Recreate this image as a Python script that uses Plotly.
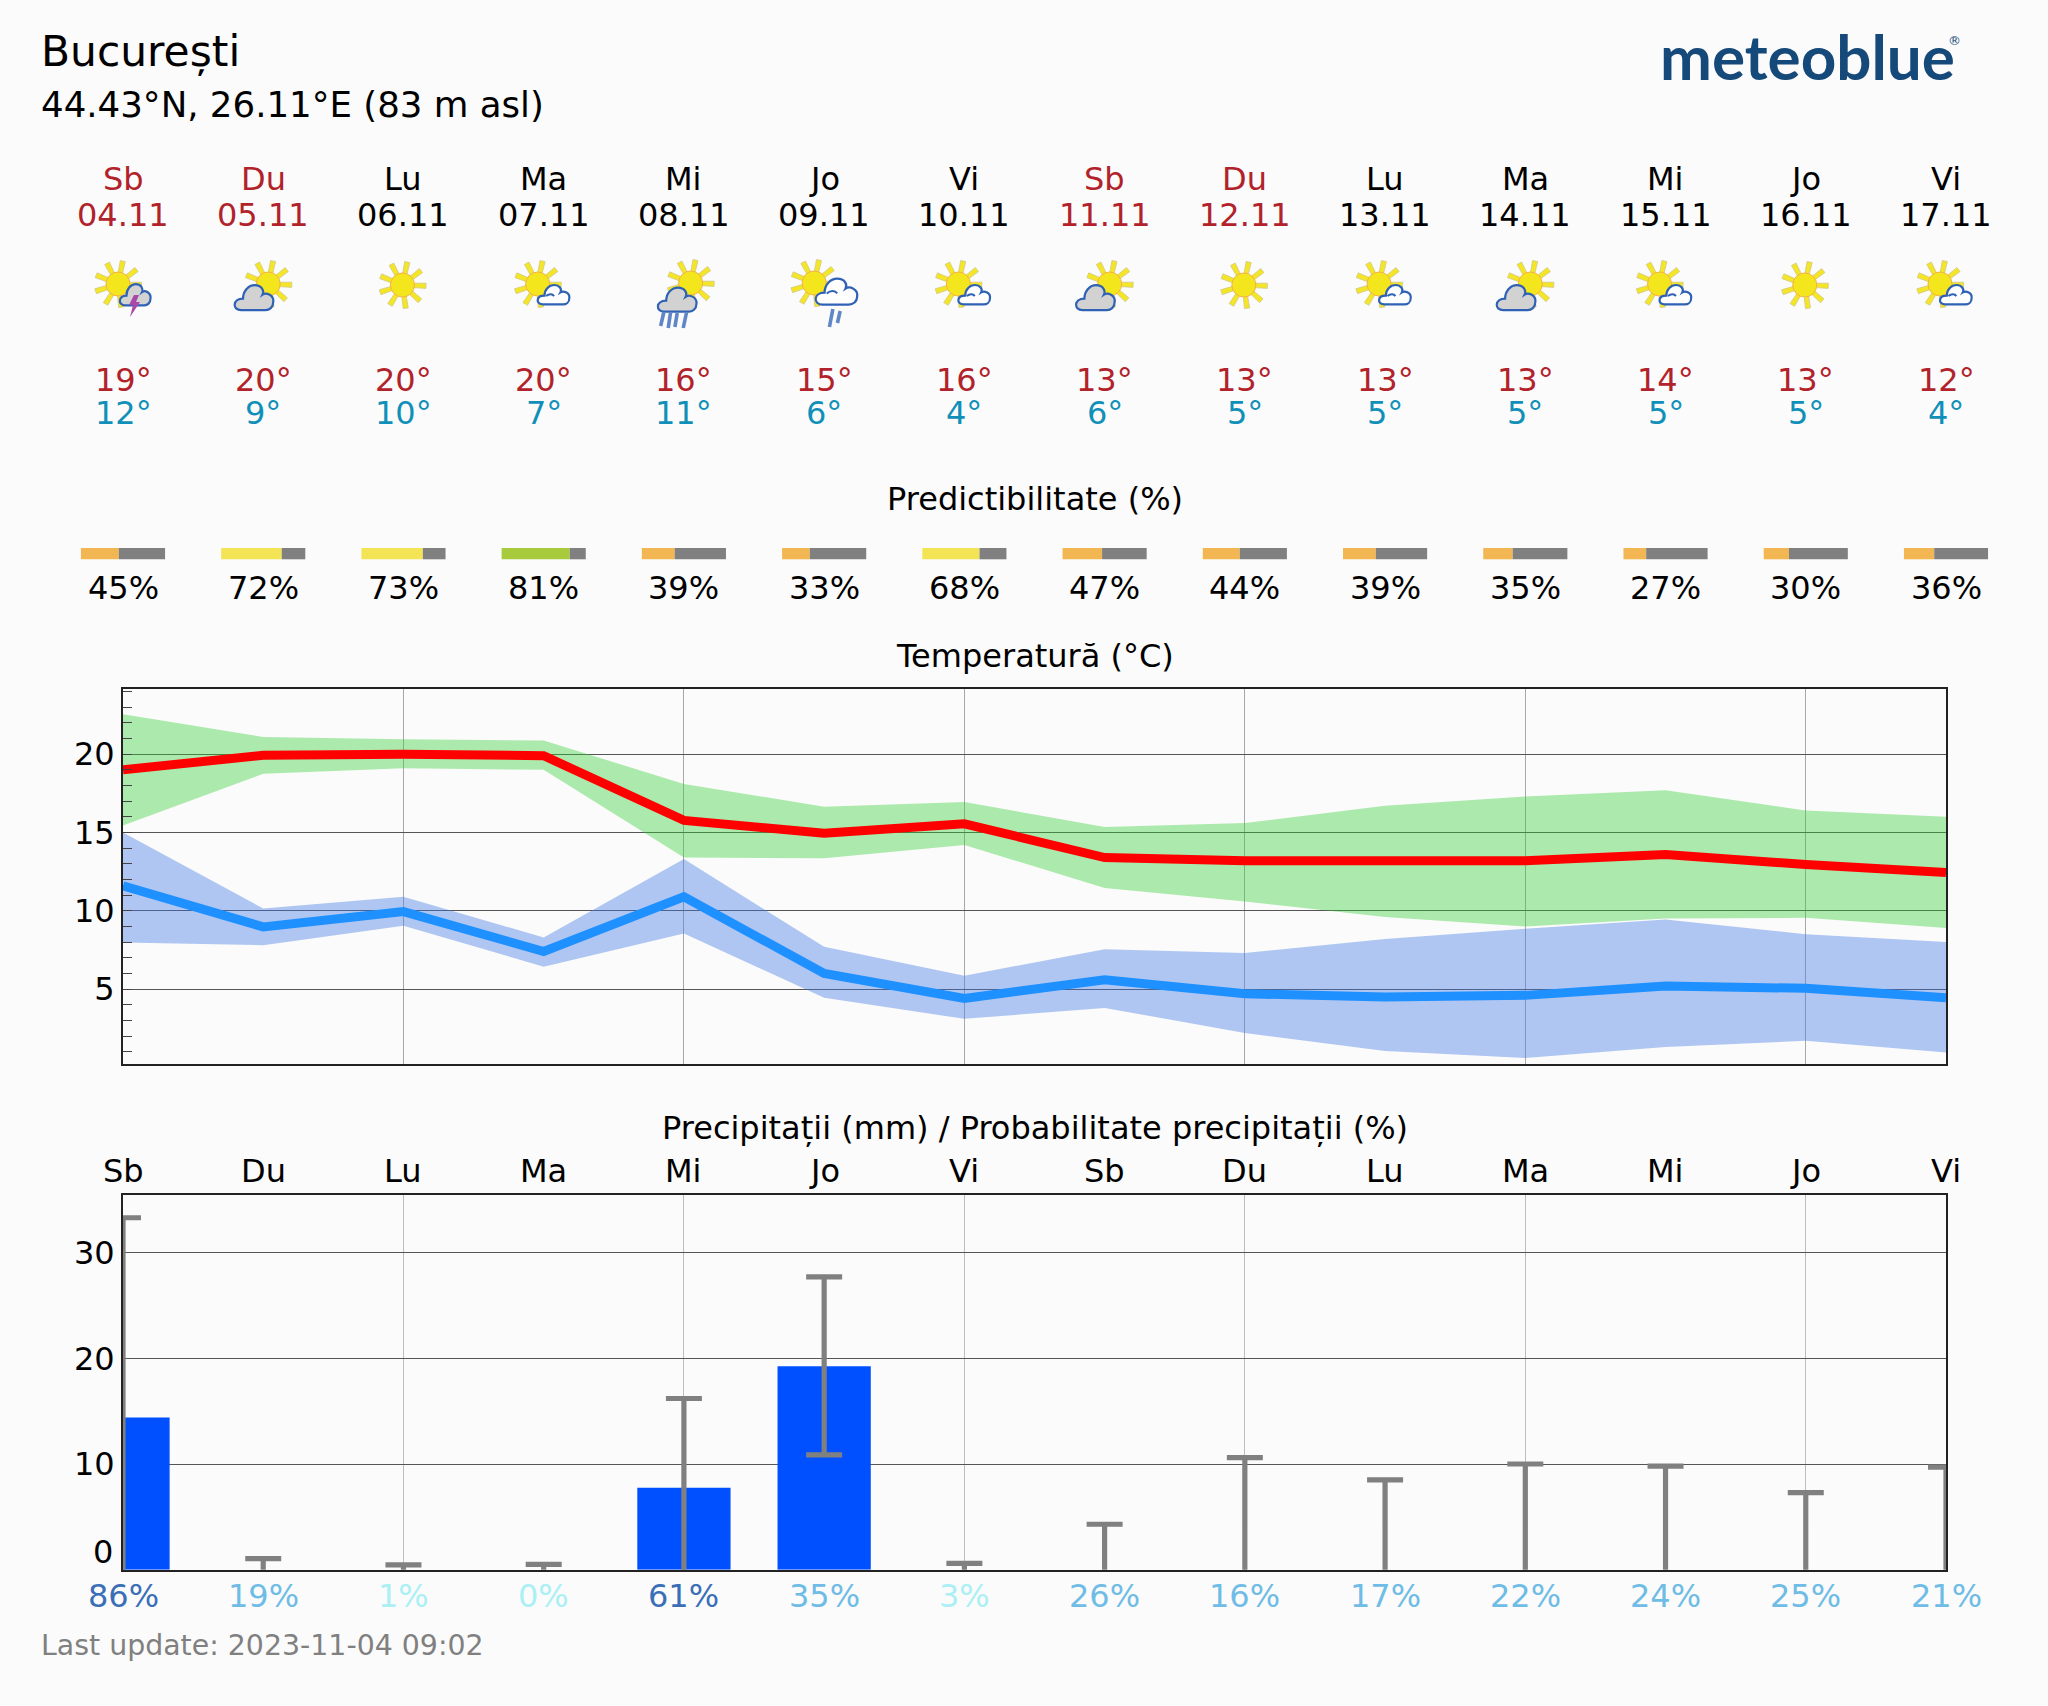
import base64
import math
import plotly.graph_objects as go

W, H = 2048, 1706
BG = "#fbfbfb"
FONT = "DejaVu Sans"

days = ["Sb", "Du", "Lu", "Ma", "Mi", "Jo", "Vi", "Sb", "Du", "Lu", "Ma", "Mi", "Jo", "Vi"]
dates = ["04.11", "05.11", "06.11", "07.11", "08.11", "09.11", "10.11",
         "11.11", "12.11", "13.11", "14.11", "15.11", "16.11", "17.11"]
icons = ["A", "B", "C", "D", "E", "F", "D", "B", "C", "D", "B", "D", "C", "D"]
high_labels = [19, 20, 20, 20, 16, 15, 16, 13, 13, 13, 13, 14, 13, 12]
low_labels = [12, 9, 10, 7, 11, 6, 4, 6, 5, 5, 5, 5, 5, 4]
predictability = [45, 72, 73, 81, 39, 33, 68, 47, 44, 39, 35, 27, 30, 36]
rain_probability = [86, 19, 1, 0, 61, 35, 3, 26, 16, 17, 22, 24, 25, 21]

tmax = [19.0, 19.93, 20.0, 19.9, 15.77, 14.95, 15.55, 13.4, 13.2, 13.2, 13.2, 13.6, 12.95, 12.45]
tmax_hi = [22.55, 21.1, 20.95, 20.87, 18.1, 16.65, 16.95, 15.35, 15.6, 16.7, 17.3, 17.7, 16.4, 16.0]
tmax_lo = [15.45, 18.75, 19.1, 19.0, 13.4, 13.35, 14.2, 11.45, 10.6, 9.6, 9.0, 9.5, 9.55, 8.9]
tmin = [11.6, 8.97, 9.95, 7.4, 10.9, 6.0, 4.4, 5.6, 4.7, 4.5, 4.6, 5.2, 5.05, 4.45]
tmin_hi = [15.0, 10.15, 10.9, 8.3, 13.3, 7.7, 5.85, 7.55, 7.3, 8.2, 8.85, 9.45, 8.5, 8.0]
tmin_lo = [7.97, 7.8, 9.05, 6.43, 8.55, 4.45, 3.1, 3.8, 2.2, 1.05, 0.6, 1.3, 1.7, 0.95]

precip = [14.4, 0, 0, 0, 7.75, 19.25, 0, 0, 0, 0, 0, 0, 0, 0]
precip_hi = [33.3, 1.04, 0.45, 0.5, 16.2, 27.7, 0.6, 4.3, 10.6, 8.5, 10.0, 9.8, 7.3, 9.7]
# a low end of -1 lies below the axis, so its cap is clipped away
precip_lo = [-1, -1, -1, -1, -1, 10.87, -1, -1, -1, -1, -1, -1, -1, -1]

x = list(range(14))
LEFT, RIGHT = 123, 1946
STEP = (RIGHT - LEFT) / 13
T_TOP, T_BOT = 689, 1063.5
P_TOP, P_BOT = 1194.5, 1569.7
px = lambda v: v / W
py = lambda v: 1 - v / H
day_px = lambda d: px(LEFT + d * STEP)

RED, BLUE, BLACK = "#b2222a", "#1090b8", "#000000"
SZ = 32

fig = go.Figure()
band = dict(mode="lines", line=dict(width=0), xaxis="x", yaxis="y", hoverinfo="skip")
fig.add_trace(go.Scatter(x=x, y=tmax_lo, **band))
fig.add_trace(go.Scatter(x=x, y=tmax_hi, fill="tonexty", fillcolor="rgba(50,205,50,0.39)", **band))
fig.add_trace(go.Scatter(x=x, y=tmin_lo, **band))
fig.add_trace(go.Scatter(x=x, y=tmin_hi, fill="tonexty", fillcolor="rgba(62,120,230,0.40)", **band))
fig.add_trace(go.Scatter(x=x, y=tmax, mode="lines", line=dict(color="#ff0000", width=9), xaxis="x", yaxis="y"))
fig.add_trace(go.Scatter(x=x, y=tmin, mode="lines", line=dict(color="#1e90ff", width=9), xaxis="x", yaxis="y"))
fig.add_trace(go.Bar(x=x, y=precip, width=0.665, marker=dict(color="#0050ff", line=dict(width=0)),
                     xaxis="x2", yaxis="y2"))
fig.add_trace(go.Scatter(
    x=x, y=precip_lo, mode="markers", marker=dict(size=1, opacity=0), xaxis="x2", yaxis="y2",
    error_y=dict(type="data", symmetric=False, array=[h - l for h, l in zip(precip_hi, precip_lo)],
                 arrayminus=[0] * 14, color="#808080", thickness=5.2, width=18)))


def ann(text, x_, y_px, size, color=BLACK, xanchor="center", **font):
    fig.add_annotation(text=text, x=x_, y=py(y_px), xref="paper", yref="paper", xanchor=xanchor,
                       yanchor="middle", showarrow=False, align="center",
                       font=dict(family=font.pop("family", FONT), size=size, color=color, **font))


ann("București", px(39), 52, 42.4, xanchor="left")
ann("44.43°N, 26.11°E (83 m asl)", px(39), 104.5, 35.6, xanchor="left")
ann("meteoblue", px(1658), 56, 62, color="#15497a", xanchor="left", family="Lato", weight=700)
ann("®", px(1946), 40, 13, color="#15497a", xanchor="left")
ann("Predictibilitate (%)", day_px(6.5), 499, SZ)
ann("Temperatură (°C)", day_px(6.5), 656, SZ)
ann("Precipitații (mm) / Probabilitate precipitații (%)", day_px(6.5), 1128, SZ)
ann("Last update: 2023-11-04 09:02", px(39), 1645, 28.4, color="#808080", xanchor="left")


def pct_color(p):
    return "#3a6fb8" if p >= 50 else ("#6fbce6" if p >= 5 else "#aaf0f5")


def pred_color(p):
    return "#f2b752" if p < 50 else ("#f3e455" if p < 80 else "#a7cb3c")


half = 0.3
for i in x:
    c = RED if days[i] in ("Sb", "Du") else BLACK
    ann(days[i], day_px(i), 179, SZ, c)
    ann(dates[i], day_px(i), 214.5, SZ, c)
    ann(f"{high_labels[i]}°", day_px(i), 380, SZ, RED)
    ann(f"{low_labels[i]}°", day_px(i), 413, SZ, BLUE)
    ann(f"{predictability[i]}%", day_px(i), 588, SZ)
    ann(days[i], day_px(i), 1171, SZ)
    ann(f"{rain_probability[i]}%", day_px(i), 1596, SZ, pct_color(rain_probability[i]))
    split = i - half + 2 * half * predictability[i] / 100
    for x0, x1, col in ((i - half, split, pred_color(predictability[i])), (split, i + half, "#808080")):
        fig.add_shape(type="rect", xref="paper", yref="paper", x0=day_px(x0), x1=day_px(x1),
                      y0=py(559.3), y1=py(548), fillcolor=col, line=dict(width=0))

ann("0", px(115), 1551.7, SZ, xanchor="right")


def ray_sun(cx, cy):
    out = []
    for k in range(9):
        a = math.radians(-78 + k * 40)
        p = []
        for r, off in ((11, -2.2), (11, 2.2), (23.5, 2.6), (23.5, -2.6)):
            p.append(f"{cx + r * math.cos(a) - off * math.sin(a):.1f},{cy + r * math.sin(a) + off * math.cos(a):.1f}")
        out.append(f'<polygon points="{" ".join(p)}" fill="#f4e526" stroke="#cfc98a" stroke-width="0.8"/>')
    out.append(f'<circle cx="{cx}" cy="{cy}" r="12" fill="#f4e61c" stroke="#f5b04a" stroke-width="1"/>')
    return "".join(out)


CLOUD = "M-.65 .9 C-1.1 .9 -1.1 .05 -.55 .05 C-.55 -.55 -.25 -.95 .05 -.95 C.4 -.95 .55 -.55 .45 -.25 C.65 -.45 1.05 -.2 1 .3 C1 .7 .8 .9 .6 .9 Z"


def cloud(cx, cy, w, h, fill):
    curl = ""
    if fill == "#ffffff":
        curl = '<path d="M-.45 .1 C-.25 -.15 -.05 -.1 .05 .1" fill="none" stroke="#2f62b5" stroke-width="2" vector-effect="non-scaling-stroke"/>'
    return (f'<g transform="translate({cx},{cy}) scale({w / 2},{h / 2})">'
            f'<path d="{CLOUD}" fill="{fill}" stroke="#2f62b5" stroke-width="2.2" vector-effect="non-scaling-stroke"/>{curl}</g>')


def streak(x0, y0, x1, y1):
    return f'<line x1="{x0}" y1="{y0}" x2="{x1}" y2="{y1}" stroke="#5f86c6" stroke-width="3.6"/>'


GRAY_CLOUD, WHITE_CLOUD = "#d2d2d2", "#ffffff"
ICON_PARTS = {
    "A": ray_sun(45, 39) + cloud(62, 50, 31, 23, GRAY_CLOUD)
         + '<polygon points="61,50 66,50 63,57 67,57 57,72 60,60 56,60" fill="#a848a8"/>',
    "B": ray_sun(55, 39) + cloud(40.5, 53, 39, 27, GRAY_CLOUD),
    "C": ray_sun(49, 40),
    "D": ray_sun(44, 39) + cloud(59.6, 50, 32, 21, WHITE_CLOUD),
    "E": ray_sun(56.7, 38) + cloud(43, 55, 39, 26, GRAY_CLOUD)
         + streak(30, 67, 26.7, 81) + streak(36.7, 67, 34.3, 83) + streak(43.3, 68, 41, 82) + streak(52.7, 67, 49.3, 83),
    "F": ray_sun(40, 38) + cloud(62, 47, 42, 28, WHITE_CLOUD)
         + streak(58.7, 64, 55.3, 82) + streak(66, 66, 63.3, 78),
}
for i, kind in enumerate(icons):
    svg = (f'<svg xmlns="http://www.w3.org/2000/svg" width="100" height="100" viewBox="0 0 100 100">'
           f'<g style="filter:blur(0.4px)">{ICON_PARTS[kind]}</g></svg>')
    src = "data:image/svg+xml;base64," + base64.b64encode(svg.encode()).decode()
    fig.add_layout_image(source=src, xref="paper", yref="paper", x=day_px(i), y=py(295),
                         sizex=100 / W, sizey=100 / H, xanchor="center",
                         yanchor="middle", sizing="stretch", layer="above")

axis_line = dict(showline=True, mirror=True, linecolor="#222222", linewidth=2, zeroline=False)
tick_font = dict(family=FONT, size=SZ, color=BLACK)
xcommon = dict(range=[0, 13], tickvals=list(range(0, 14, 2)), showticklabels=False, ticks="",
               showgrid=True, gridwidth=1, domain=[px(LEFT), px(RIGHT)], **axis_line)
fig.update_layout(
    width=W, height=H, margin=dict(l=0, r=0, t=0, b=0), autosize=False,
    paper_bgcolor=BG, plot_bgcolor=BG, showlegend=False, hovermode=False, barmode="overlay",
    xaxis=dict(anchor="y", gridcolor="#a8a8a8", **xcommon),
    xaxis2=dict(anchor="y2", gridcolor="#bdbdbd", **xcommon),
    yaxis=dict(anchor="x", domain=[py(T_BOT), py(T_TOP)], range=[0.25, 24.16],
               tickvals=[5, 10, 15, 20], tickfont=tick_font, ticks="", gridcolor="#555555", gridwidth=1,
               minor=dict(tickvals=list(range(1, 25)), ticks="inside", ticklen=9, tickcolor="#444444",
                          tickwidth=1, showgrid=False),
               **axis_line),
    yaxis2=dict(anchor="x2", domain=[py(P_BOT), py(P_TOP)], range=[0, 35.5],
                tickvals=[10, 20, 30], tickfont=tick_font, ticks="", gridcolor="#555555", gridwidth=1,
                **axis_line),
)
fig.write_html("out.html", config=dict(displayModeBar=False),
               post_script="document.body.style.margin='0';document.body.style.background='#fbfbfb';"
                           "document.documentElement.style.overflow='hidden';")
